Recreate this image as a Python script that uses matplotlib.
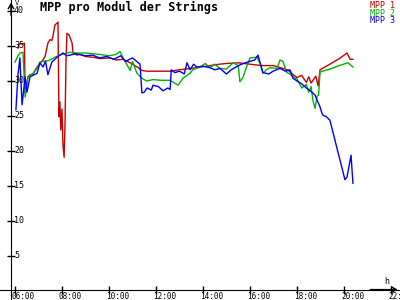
import numpy as np
import matplotlib
matplotlib.use("Agg")
import matplotlib.pyplot as plt
from matplotlib.transforms import offset_copy

#________________ DATA ________________#

red_h = [6.13, 6.17, 6.30, 6.40, 6.43, 6.47, 6.55, 6.64, 6.77, 6.90, 7.06, 7.19, 7.28,
         7.40, 7.49, 7.57, 7.62, 7.70, 7.83, 7.87, 7.91, 7.95, 8.00, 8.04, 8.09, 8.13,
         8.17, 8.21, 8.30, 8.43, 8.47, 8.64, 8.77, 9.00, 9.30, 9.62, 10.04, 10.30, 10.60,
         10.90, 11.20, 11.40, 11.60, 12.00, 12.60, 13.00, 13.50, 13.90, 14.30, 14.70,
         15.00, 15.50, 16.00, 16.50, 17.00, 17.30, 17.60, 17.80, 18.00, 18.20, 18.40,
         18.50, 18.60, 18.80, 18.90, 18.98, 19.40, 19.80, 20.13, 20.26, 20.38]
red_v = [34.7, 35.3, 35.3, 35.4, 28.3, 28.8, 30.6, 30.9, 31.0, 31.8, 32.5, 33.0, 33.5,
         35.4, 35.9, 35.8, 36.5, 38.0, 38.4, 24.9, 27.0, 23.0, 26.0, 21.0, 19.1, 24.0,
         33.0, 36.8, 36.6, 35.4, 34.0, 33.7, 33.8, 33.5, 33.4, 33.2, 33.3, 33.0, 33.1,
         32.6, 32.0, 31.5, 31.4, 31.4, 31.4, 31.6, 31.8, 32.0, 32.2, 32.4,
         32.5, 32.6, 32.4, 32.2, 32.2, 31.9, 31.6, 31.0, 30.5, 30.8, 29.8,
         30.6, 29.7, 30.7, 29.3, 31.6, 32.4, 33.2, 34.0, 33.1, 33.1]

green_h = [6.00, 6.13, 6.21, 6.34, 6.43, 6.55, 6.64, 6.77, 6.94, 7.06, 7.20, 7.40, 7.49,
           7.70, 7.91, 8.10, 8.34, 8.60, 9.00, 9.30, 9.60, 10.00, 10.30, 10.47, 10.60,
           10.90, 11.00, 11.19, 11.40, 11.60, 11.87, 12.20, 12.60, 12.94, 13.15, 13.45,
           13.57, 13.87, 14.10, 14.30, 14.50, 14.72, 15.00, 15.28, 15.50, 15.57, 15.70,
           15.85, 16.00, 16.30, 16.43, 16.55, 16.70, 16.85, 17.15, 17.28, 17.40, 17.57,
           17.70, 17.83, 18.00, 18.20, 18.40, 18.50, 18.60, 18.68, 18.77, 18.85, 18.92,
           18.98, 19.40, 19.80, 20.17, 20.38]
green_v = [32.7, 33.6, 34.0, 34.1, 27.7, 30.6, 30.8, 31.1, 31.8, 32.7, 32.8, 32.9, 33.0,
           33.4, 33.7, 33.9, 34.1, 34.0, 34.0, 33.9, 33.8, 33.6, 33.8, 34.2, 33.3,
           31.5, 32.8, 31.1, 30.4, 30.0, 30.2, 30.1, 30.1, 29.4, 30.4, 31.1,
           31.6, 32.0, 32.5, 31.9, 32.4, 31.8, 31.7, 32.6, 32.2, 29.9, 30.5,
           32.0, 33.3, 33.4, 32.5, 31.1, 31.6, 31.9, 31.8, 33.0, 32.8, 31.2,
           31.0, 30.6, 30.3, 29.0, 29.5, 28.4, 29.2, 27.2, 26.1, 27.8, 28.0,
           31.3, 31.7, 32.2, 32.6, 32.0]

blue_h = [6.04, 6.13, 6.21, 6.30, 6.38, 6.43, 6.51, 6.64, 6.94, 7.06, 7.19, 7.30, 7.40,
          7.57, 7.79, 8.04, 8.20, 8.34, 8.60, 9.00, 9.30, 9.60, 9.90, 10.20, 10.50,
          10.70, 11.00, 11.32, 11.40, 11.50, 11.62, 11.80, 11.87, 12.10, 12.30, 12.50,
          12.60, 12.65, 12.80, 13.00, 13.20, 13.32, 13.45, 13.60, 13.74, 14.00, 14.30,
          14.50, 14.72, 15.00, 15.20, 15.57, 15.80, 16.00, 16.20, 16.34, 16.55, 16.80,
          16.98, 17.28, 17.50, 17.70, 17.83, 18.00, 18.20, 18.40, 18.60, 18.77, 18.85,
          18.98, 19.06, 19.11, 19.25, 19.40, 20.04, 20.13, 20.30, 20.38]
blue_v = [25.9, 31.0, 33.3, 26.6, 29.0, 30.6, 28.4, 30.6, 31.1, 32.6, 32.0, 32.8, 30.9,
          32.7, 33.4, 34.0, 33.6, 33.7, 33.9, 33.6, 33.7, 33.3, 33.5, 33.1, 33.6,
          32.8, 33.3, 32.4, 28.3, 28.4, 29.0, 28.7, 29.4, 29.2, 28.6, 29.0,
          28.8, 31.6, 31.2, 31.4, 31.0, 32.6, 31.6, 32.4, 32.0, 32.1, 31.9,
          31.6, 31.8, 31.0, 31.6, 32.3, 32.6, 32.8, 33.0, 33.7, 31.2, 31.0,
          31.4, 31.8, 31.4, 31.6, 30.4, 30.0, 29.6, 29.0, 28.5, 28.0, 27.3,
          26.3, 25.4, 25.1, 24.9, 24.4, 15.9, 16.3, 19.4, 15.4]

series = [("MPP 1", red_h, red_v, "#c80000"),
          ("MPP 2", green_h, green_v, "#00b400"),
          ("MPP 3", blue_h, blue_v, "#0000ff")]

x_ticks = [6, 8, 10, 12, 14, 16, 18, 20, 22]
x_labels = ["06:00", "08:00", "10:00", "12:00", "14:00", "16:00", "18:00", "20:00", "22:00"]
y_ticks = [5, 10, 15, 20, 25, 30, 35, 40]

#________________ FIGURE PARAMETERS ________________#

plt.rcParams['font.family'] = 'DejaVu Sans Mono'
lab_size = 6
x0 = 5.83      # where the V axis crosses
y0 = 0.2       # where the h axis crosses

fig = plt.figure(figsize=(4, 3), dpi=100)
ax = fig.add_axes([0, 0, 1, 1])
ax.set_xlim(5.362, 22.383)
ax.set_ylim(-1.286, 41.57)

for name, h, v, col in series:
    ax.plot(h, v, color=col, linewidth=1.0)

# axes through the data origin
ax.spines['left'].set_position(('data', x0))
ax.spines['bottom'].set_position(('data', y0))
ax.spines['right'].set_visible(False)
ax.spines['top'].set_visible(False)
ax.set_xticks(x_ticks)
ax.set_yticks(y_ticks)
ax.tick_params(direction='inout', length=6, width=1,
               labelbottom=False, labelleft=False)

tr_x = offset_copy(ax.transData, fig=fig, x=-3, y=-2, units='dots')
for t, lab in zip(x_ticks, x_labels):
    ax.text(t, y0, lab, transform=tr_x, ha='left', va='top', fontsize=5.5)
tr_y = offset_copy(ax.transData, fig=fig, x=3, y=0, units='dots')
for t in y_ticks:
    ax.text(x0, t, str(t), transform=tr_y, ha='left', va='center', fontsize=lab_size)

# arrow heads
ax.annotate('', xy=(x0, 41.6), xytext=(x0, 39),
            arrowprops=dict(arrowstyle='->,head_length=0.35,head_width=0.2', lw=1))
ax.annotate('', xy=(22.4, y0), xytext=(21, y0),
            arrowprops=dict(arrowstyle='->,head_length=0.35,head_width=0.2', lw=1))
fig.text(15 / 400, 1.0, 'V', ha='left', va='top', fontsize=5)
fig.text(387 / 400, 1 - 282 / 300, 'h', ha='center', va='center', fontsize=lab_size)

fig.text(40 / 400, 0.997, 'MPP pro Modul der Strings', ha='left', va='top',
         fontsize=8.5, fontweight='bold')

for i, (name, h, v, col) in enumerate(series):
    fig.text(395 / 400, 1 - (1 + 7.5 * i) / 300, name, color=col,
             ha='right', va='top', fontsize=lab_size)

fig.savefig('out.png', dpi=100, facecolor='white')
